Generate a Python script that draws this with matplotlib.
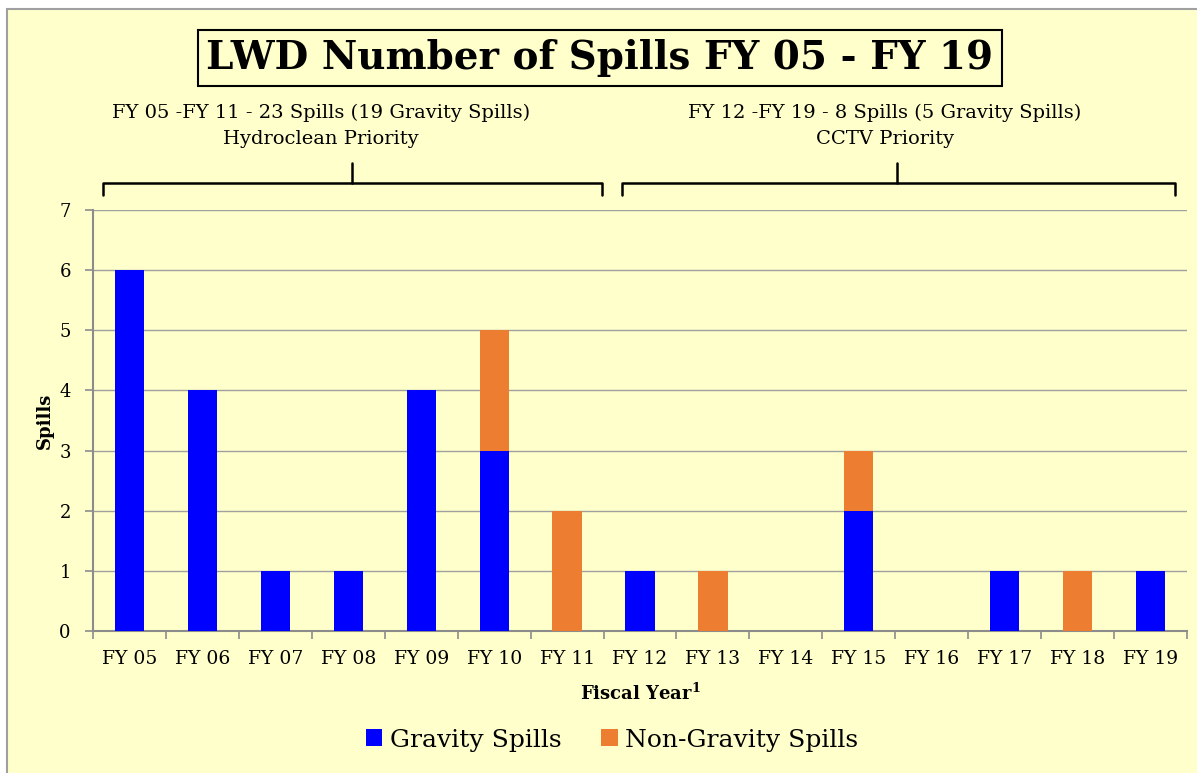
import matplotlib.pyplot as plt
from matplotlib.patches import Rectangle
import numpy as np

# Dados
years = ['FY 05', 'FY 06', 'FY 07', 'FY 08', 'FY 09', 'FY 10', 'FY 11', 'FY 12',
         'FY 13', 'FY 14', 'FY 15', 'FY 16', 'FY 17', 'FY 18', 'FY 19']
gravity = [6, 4, 1, 1, 4, 3, 0, 1, 0, 0, 2, 0, 1, 0, 1]
non_gravity = [0, 0, 0, 0, 0, 2, 2, 0, 1, 0, 1, 0, 0, 1, 0]

plt.rcParams['font.family'] = ['DejaVu Serif']
bg = '#FFFFCC'

fig = plt.figure(figsize=(11.97, 7.73), dpi=100)
fig.patch.set_facecolor('white')
# moldura amarela
frame = Rectangle((7 / 1197, -0.1), 1.2, 1 - 9 / 773 + 0.1,
                  transform=fig.transFigure, facecolor=bg,
                  edgecolor='#A0A0A0', linewidth=1.5, zorder=-10)
fig.add_artist(frame)

ax = fig.add_axes([93 / 1197, 1 - 631 / 773, (1187 - 93) / 1197, (631 - 210) / 773])
ax.set_facecolor(bg)
x = np.arange(len(years))
ax.bar(x, gravity, width=0.4, color='#0000FF', label='Gravity Spills', zorder=3)
ax.bar(x, non_gravity, width=0.4, bottom=gravity, color='#ED7D31',
       label='Non-Gravity Spills', zorder=3)

ax.set_xlim(-0.5, len(years) - 0.5)
ax.set_ylim(0, 7)
ax.set_yticks(range(8))
ax.yaxis.grid(True, color='#A0A0A0', linewidth=1, zorder=0)
ax.set_xticks(x)
ax.set_xticklabels(years, fontsize=13.5)
ax.set_xticks(np.arange(-0.5, len(years)), minor=True)
ax.tick_params(axis='x', which='major', length=0, pad=14)
ax.tick_params(axis='x', which='minor', length=6, color='#8C8C8C', width=1.2)
ax.tick_params(axis='y', length=6, color='#8C8C8C', width=1.2, labelsize=13, pad=10)
for s in ['top', 'right']:
    ax.spines[s].set_visible(False)
for s in ['left', 'bottom']:
    ax.spines[s].set_color('#8C8C8C')
    ax.spines[s].set_linewidth(1.5)

ax.set_xlabel('Fiscal Year$^\\mathregular{1}$', fontsize=13, fontweight='bold', labelpad=10)
ax.set_ylabel('Spills', fontsize=13, fontweight='bold', labelpad=4)

# Título
fig.text(600 / 1197, 1 - 58 / 773, 'LWD Number of Spills FY 05 - FY 19',
         ha='center', va='center', fontsize=28, fontweight='bold',
         bbox=dict(boxstyle='square,pad=0.22', facecolor=bg, edgecolor='black', linewidth=1.5))

# Chaves e anotações
def brace(x0, x1, xm, y=7.45, tip=7.78, end=7.25):
    kw = dict(color='black', lw=1.8, clip_on=False, solid_capstyle='round')
    ax.plot([x0, x0, x1, x1], [end, y, y, end], **kw)
    ax.plot([xm, xm], [y, tip], **kw)

brace(-0.36, 6.48, 3.05)
brace(6.76, 14.34, 10.53)
ax.text(2.63, 8.61, 'FY 05 -FY 11 - 23 Spills (19 Gravity Spills)', ha='center', va='center', fontsize=14)
ax.text(2.63, 8.18, 'Hydroclean Priority', ha='center', va='center', fontsize=14)
ax.text(10.36, 8.61, 'FY 12 -FY 19 - 8 Spills (5 Gravity Spills)', ha='center', va='center', fontsize=14)
ax.text(10.36, 8.18, 'CCTV Priority', ha='center', va='center', fontsize=14)

fig.legend(loc='center', bbox_to_anchor=(612 / 1197, 1 - 740 / 773), ncol=2, frameon=False,
           fontsize=18, handlelength=0.65, handleheight=0.65, handletextpad=0.3, columnspacing=1.6)

plt.savefig('out.png', dpi=100, facecolor=fig.get_facecolor())
